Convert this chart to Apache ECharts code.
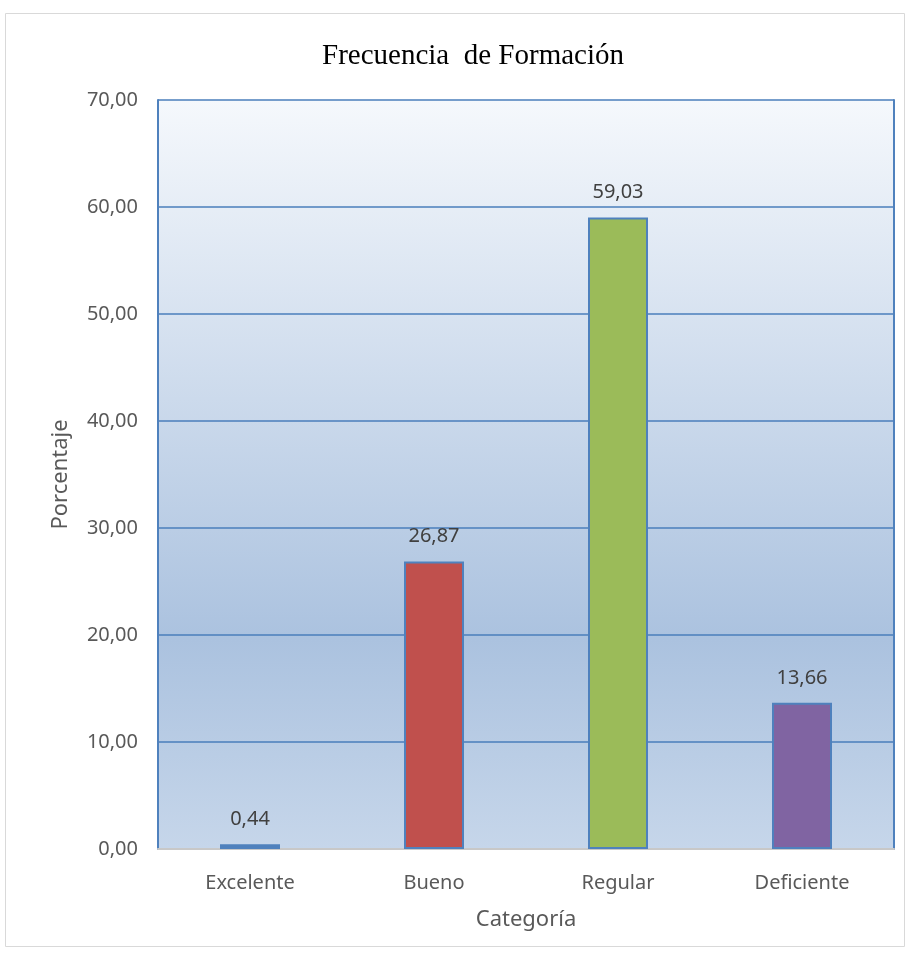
<!DOCTYPE html>
<html>
<head>
<meta charset="utf-8">
<script src="https://cdn.jsdelivr.net/npm/echarts@6/dist/echarts.min.js"></script>
<style>
  html, body { margin: 0; padding: 0; background: #fff; }
  #chart { width: 910px; height: 960px; }
</style>
</head>
<body>
<div id="chart"></div>
<script>
const categories = ['Excelente', 'Bueno', 'Regular', 'Deficiente']
const values = [0.44, 26.87, 59.03, 13.66]
const barColors = ['#4f81bd', '#c0504d', '#9bbb59', '#8064a2']

const fmt = v => v.toFixed(2).replace('.', ',')

const chart = echarts.init(document.getElementById('chart'))

const option = {
  animation: false,
  title: {
    text: 'Frecuencia  de Formación',
    left: 468,
    textAlign: 'center',
    top: 37,
    textStyle: {
      fontFamily: 'Liberation Serif, Times New Roman, serif',
      fontSize: 29,
      fontWeight: 'normal',
      color: '#000'
    }
  },
  graphic: [
    {
      type: 'rect',
      shape: { x: 5.5, y: 13.5, width: 899, height: 933 },
      style: { fill: 'none', stroke: '#d9d9d9', lineWidth: 1 },
      z: -10
    }
  ],
  grid: {
    left: 158,
    right: 16,
    top: 100,
    bottom: 111,
    show: true,
    borderWidth: 0,
    backgroundColor: new echarts.graphic.LinearGradient(0, 0, 0, 1, [
      { offset: 0, color: '#f5f8fc' },
      { offset: 0.72, color: '#abc2df' },
      { offset: 1, color: '#c6d6ea' }
    ])
  },
  xAxis: {
    type: 'category',
    data: categories,
    name: 'Categoría',
    nameLocation: 'middle',
    nameGap: 60,
    nameTextStyle: { fontFamily: 'Noto Sans, sans-serif', fontSize: 22, color: '#595959' },
    axisLine: { lineStyle: { color: '#c8c8c8', width: 2 } },
    axisTick: { show: false },
    axisLabel: { fontFamily: 'Noto Sans, sans-serif', fontSize: 20, color: '#595959', margin: 24 }
  },
  yAxis: [
    {
      type: 'value',
      min: 0,
      max: 70,
      interval: 10,
      name: 'Porcentaje',
      nameLocation: 'middle',
      nameGap: 86,
      nameTextStyle: { fontFamily: 'Noto Sans, sans-serif', fontSize: 22, color: '#595959' },
      axisLine: { show: true, lineStyle: { color: '#4f81bd', width: 2 } },
      axisTick: { show: false },
      splitLine: { lineStyle: { color: '#4a7ebb', width: 1.5 } },
      axisLabel: {
        fontFamily: 'Noto Sans, sans-serif',
        fontSize: 20,
        color: '#595959',
        margin: 20,
        formatter: v => fmt(v)
      }
    },
    {
      type: 'value',
      min: 0,
      max: 70,
      interval: 10,
      position: 'right',
      axisLine: { show: true, lineStyle: { color: '#4f81bd', width: 2 } },
      axisTick: { show: false },
      splitLine: { show: false },
      axisLabel: { show: false }
    }
  ],
  series: [
    {
      type: 'bar',
      barWidth: 60,
      data: values.map((v, i) => ({
        value: v,
        itemStyle: { color: barColors[i] }
      })),
      itemStyle: { borderColor: '#4f81bd', borderWidth: 2 },
      label: {
        show: true,
        position: 'top',
        distance: 15,
        fontFamily: 'Noto Sans, sans-serif',
        fontSize: 20,
        color: '#404040',
        formatter: p => fmt(p.value)
      }
    }
  ]
}

chart.setOption(option)
</script>
</body>
</html>
